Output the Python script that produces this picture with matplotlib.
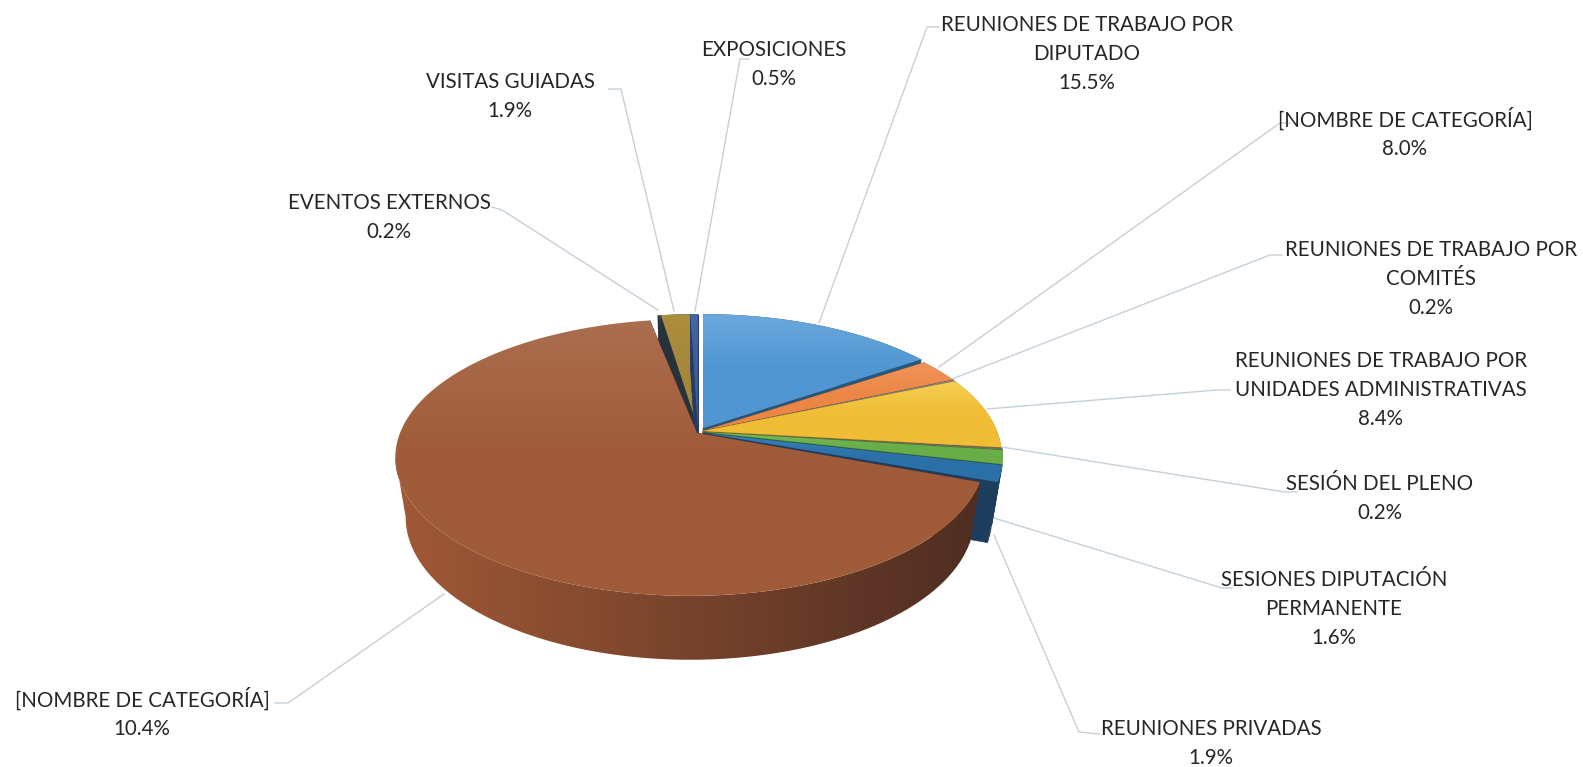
import numpy as np
import matplotlib
matplotlib.use("Agg")
import matplotlib.pyplot as plt
from matplotlib.colors import LinearSegmentedColormap
from matplotlib.patches import Polygon

# ----------------------------
# DATA
# ----------------------------
categories = [
    "REUNIONES DE TRABAJO POR\nDIPUTADO",
    "[NOMBRE DE CATEGORÍA]",
    "REUNIONES DE TRABAJO POR\nCOMITÉS",
    "REUNIONES DE TRABAJO POR\nUNIDADES ADMINISTRATIVAS",
    "SESIÓN DEL PLENO",
    "SESIONES DIPUTACIÓN\nPERMANENTE",
    "REUNIONES PRIVADAS",
    "[NOMBRE DE CATEGORÍA]",
    "EVENTOS EXTERNOS",
    "VISITAS GUIADAS",
    "EXPOSICIONES",
]
# percentages printed on the labels
printed_pct = ["15.5%", "8.0%", "0.2%", "8.4%", "0.2%", "1.6%", "1.9%", "10.4%", "0.2%", "1.9%", "0.5%"]
# share of the circle each slice really takes in the picture
drawn_share = [15.5, 2.8, 0.2, 8.4, 0.2, 1.6, 1.9, 66.8, 0.2, 1.9, 0.5]

# ----------------------------
# STYLE / LAYOUT (pixels)
# ----------------------------
W, H = 1583, 767
top_light = ["#6aa8dc", "#f0935a", "#8a8a8a", "#f6cf55", "#7d7d72", "#78bb55", "#3a80b8", "#ab6e4e", "#3a4650", "#ab8f3e", "#4465a8"]
top_dark = ["#4f96d2", "#ec8645", "#7a7a7a", "#f0bd35", "#6f6f66", "#68ae48", "#2b70a8", "#a05b39", "#2c3a45", "#a5873a", "#3c5a9a"]
face_col = ["#27567f", "#a8562a", "#555555", "#9c7a1c", "#555555", "#3f6d2b", "#1d3d5f", "#5a3020", "#26323c", "#26323c", "#223a66"]
wall_left = ["#27567f", "#a8562a", "#555555", "#9c7a1c", "#555555", "#3f6d2b", "#1d3d5f", "#a35a37", "#26323c", "#26323c", "#223a66"]
wall_right = ["#27567f", "#a8562a", "#555555", "#9c7a1c", "#555555", "#3f6d2b", "#1d3d5f", "#4a2b21", "#26323c", "#26323c", "#223a66"]
centers = [(703, 428), (703, 431), (703, 431), (703, 431), (704, 432), (704, 432), (704, 433),
           (690, 433), (698, 428), (698, 428), (698, 428)]
radius = [290, 294, 294, 294, 294, 294, 294, 290, 290, 290, 290]
brown_apex = (697, 433)
B = 134      # vertical half size of the disc
K = 0.177    # perspective
DEPTH = 59   # thickness of the pie
LINE = "#c6d0d9"
TXT = "#262626"

# line positions in the picture: (from slice, elbow, to text)
leaders = [
    [(819, 323), (927, 27), (939, 27)],
    [(939, 367), (1280, 123), (1290, 123)],
    [(947, 381), (1270, 255), (1282, 255)],
    [(987, 409), (1217, 390), (1230, 390)],
    [(1002, 447), (1285, 492), (1297, 492)],
    [(994, 518), (1222, 588), (1232, 588)],
    [(994, 535), (1079, 732), (1099, 734)],
    [(444, 594), (288, 703), (275, 703)],
    [(658, 310), (502, 210), (492, 207)],
    [(674, 311), (621, 89), (609, 89)],
    [(695, 311), (740, 59), (749, 59)],
]
# centre x and top y of each label
label_x = [1087, 1405, 1431, 1381, 1380, 1334, 1211, 142, 389, 510, 774]
label_y = [15, 107, 240, 351, 474, 570, 719, 687, 193, 72, 40]

plt.rcParams["font.family"] = ["Lato", "DejaVu Sans"]


# ----------------------------
# PROJECTION OF THE DISC
# ----------------------------
def project(center, r, theta, z=0.0):
    # theta in degrees, clockwise from the top of the disc
    t = np.radians(theta)
    u, v = np.sin(t), -np.cos(t)
    w = 1 - K * v
    shrink = 1 - 0.035 * z
    x = center[0] + r * shrink * u / w
    y = center[1] + B * shrink * v / w + DEPTH * z / w ** 0.85
    return x, y


def fill_gradient(ax, pts, colors, horizontal, zorder, span=None):
    # gradient image clipped to the polygon
    poly = Polygon(pts, closed=True, fc="none", ec="none")
    ax.add_patch(poly)
    cmap = LinearSegmentedColormap.from_list("g", colors)
    xs = [p[0] for p in pts]
    ys = [p[1] for p in pts]
    x0, x1 = span if span else (min(xs), max(xs))
    grad = np.linspace(0, 1, 256)
    grad = grad.reshape(1, -1) if horizontal else grad.reshape(-1, 1)
    im = ax.imshow(grad, cmap=cmap, aspect="auto", extent=[x0, x1, max(ys), min(ys)],
                   zorder=zorder, interpolation="bilinear")
    im.set_clip_path(poly)


def draw_slice(ax, i, t0, t1, zorder):
    c, r = centers[i], radius[i]
    apex = brown_apex if i == 7 else c
    ts = np.linspace(t0, t1, max(int((t1 - t0) * 2), 2) + 1)
    apex_low = (apex[0], apex[1] + DEPTH)

    # the two cut faces
    for t in (t0, t1):
        x0, y0 = project(c, r, t)
        x1, y1 = project(c, r, t, 1)
        ax.add_patch(Polygon([apex, (x0, y0), (x1, y1), apex_low], closed=True,
                             fc=face_col[i], ec=face_col[i], lw=0.4, zorder=zorder))

    # outer wall, shaded from left to right
    # stop at the left silhouette of the disc, the rest is behind the top
    t_wall = ts[ts <= 260] if t0 < 260 < t1 else ts
    xs, ys = project(c, r, t_wall)
    xl, yl = project(c, r, t_wall, 1)
    wall = list(zip(xs, ys)) + list(zip(xl[::-1], yl[::-1]))
    fill_gradient(ax, wall, [wall_left[i], wall_right[i]], True, zorder + 0.1, span=(380, 1010))

    # top surface with a vertical gradient
    xs, ys = project(c, r, ts)
    top = [apex] + list(zip(xs, ys))
    fill_gradient(ax, top, [top_light[i], top_dark[i], top_dark[i]], False, zorder + 0.2)


# ----------------------------
# FIGURE
# ----------------------------
fig = plt.figure(figsize=(W / 100, H / 100), dpi=100, facecolor="white")
ax = fig.add_axes([0, 0, 1, 1])

# leader lines go under the pie
for pts in leaders:
    ax.plot([p[0] for p in pts], [p[1] for p in pts], color=LINE, lw=1.0, zorder=1,
            solid_joinstyle="miter")

edges = np.concatenate([[0], np.cumsum(drawn_share)]) / np.sum(drawn_share) * 360
# clockwise from the top; the big slice goes last so it covers the hidden faces
order = [0, 1, 2, 3, 4, 5, 6, 8, 9, 10, 7]
for z, i in enumerate(order):
    draw_slice(ax, i, edges[i], edges[i + 1], 2 + z)

for i, name in enumerate(categories):
    ax.text(label_x[i], label_y[i], name + "\n" + printed_pct[i], ha="center", va="top",
            fontsize=14.8, color=TXT, linespacing=1.57, zorder=30)

ax.set_xlim(0, W)
ax.set_ylim(H, 0)
ax.axis("off")

fig.savefig("out.png", dpi=100, facecolor="white")
